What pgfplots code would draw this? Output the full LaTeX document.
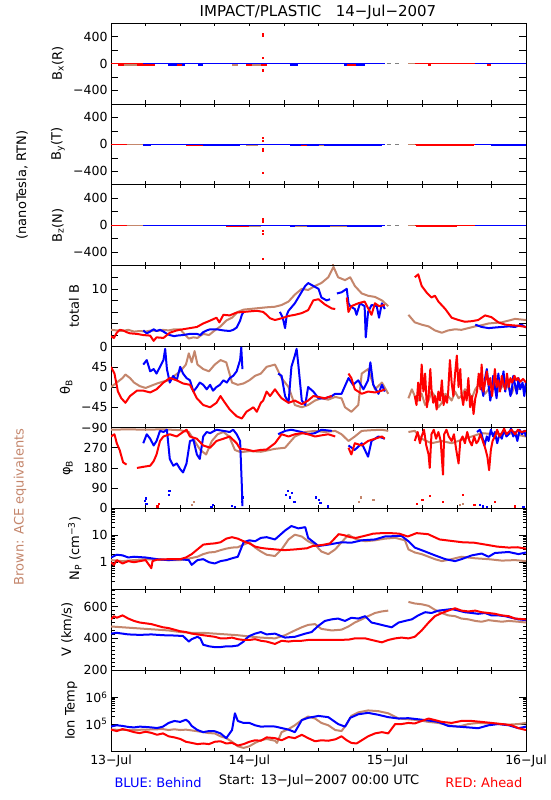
\documentclass[border=0pt]{standalone}
\usepackage{pgfplots}
\pgfplotsset{compat=1.18}
\usepackage{fontspec}
\setmainfont{DejaVu Sans}
\definecolor{stb}{RGB}{0,0,255}
\definecolor{sta}{RGB}{255,0,0}
\definecolor{ace}{RGB}{196,134,108}
\newcommand\ticksize{\fontsize{12.5}{13}\selectfont}
\newcommand\labsize{\fontsize{13}{14}\selectfont}
\pgfplotsset{
  panel/.style={
    scale only axis, width=415pt, height=80.9pt,
    xmin=0, xmax=72, anchor=north west,
    xtick={0,24,48,72}, minor xtick={6,12,18,30,36,42,54,60,66},
    xticklabels={},
    tick align=inside,
    major tick length=7pt, minor tick length=3.5pt,
    major x tick style={/pgfplots/major tick length=3.5pt},
    axis line style={line width=0.8pt},
    every tick/.style={black, line width=0.6pt},
    tick label style={font=\ticksize},
    ylabel style={font=\labsize, anchor=center},
    unbounded coords=jump,
  },
  sb/.style={color=stb, line width=2pt, no markers, line join=round},
  sa/.style={color=sta, line width=2pt, no markers, line join=round},
  ac/.style={color=ace, line width=2pt, no markers, line join=round},
  zb/.style={color=stb, line width=1.2pt, no markers},
  za/.style={color=sta, line width=1.2pt, no markers},
  zc/.style={color=ace, line width=1.2pt, no markers},
  zg/.style={color=gray, line width=1.2pt, no markers},
  ob/.style={color=stb, line width=2pt, no markers},
  oa/.style={color=sta, line width=2pt, no markers},
  oc/.style={color=ace, line width=2pt, no markers},
  bpanel/.style={panel, ymin=-600, ymax=600, ytick={-400,-200,0,200,400},
    yticklabels={−400,,0,,400}},
  dots/.style={only marks, mark=square*, mark size=0.6pt, color=#1},
}
\begin{document}
\begin{tikzpicture}
\useasboundingbox (0,0) rectangle (550pt,-800pt);

% ---------- Bx ----------
\begin{axis}[bpanel, at={(111pt,-23pt)}, ylabel={B\textsubscript{x}(R)},
  ylabel style={at={(axis description cs:-0.128,0.5)}}]
\addplot[oa] coordinates {(1.3,-16)(2.7,-16)};
\addplot[oc] coordinates {(2.2,-16)(5,-16)};
\addplot[oa] coordinates {(4.5,-16)(7.6,-16)};
\addplot[ob] coordinates {(9.9,-16)(12.8,-16)};
\addplot[oa] coordinates {(11.5,-16)(12.3,-16)};
\addplot[ob] coordinates {(15.1,-16)(16,-16)};
\addplot[oc] coordinates {(21,-16)(22,-16)};
\addplot[oa] coordinates {(23.5,-16)(27,-16)};
\addplot[oc] coordinates {(24.5,-16)(26,-16)};
\addplot[ob] coordinates {(31,-16)(32.5,-16)};
\addplot[ob] coordinates {(40.5,-16)(44,-16)};
\addplot[oa] coordinates {(41,-16)(42.5,-16)};
\addplot[oa] coordinates {(55,-16)(55.5,-16)};
\addplot[oa] coordinates {(65.2,-16)(66,-16)};
\addplot[za] coordinates {(0,0)(5.6,0)};
\addplot[zb] coordinates {(5.6,0)(47.6,0)};
\addplot[zg] coordinates {(47.8,0)(48.6,0)};
\addplot[zg] coordinates {(49.3,0)(50,0)};
\addplot[zc] coordinates {(51.6,0)(52.7,0)};
\addplot[za] coordinates {(52.7,0)(63.2,0)};
\addplot[zb] coordinates {(63.2,0)(72,0)};
\addplot[dots=sta] coordinates {(26.3,440)(26.3,410)(26.3,90)(26.3,-90)(26.3,-110)};
\end{axis}

% ---------- By ----------
\begin{axis}[bpanel, at={(111pt,-103.9pt)}, ylabel={B\textsubscript{y}(T)},
  ylabel style={at={(axis description cs:-0.128,0.5)}}]
\addplot[ob] coordinates {(5.6,-16)(7,-16)};
\addplot[oa] coordinates {(13,-16)(16,-16)};
\addplot[ob] coordinates {(16,-16)(22.4,-16)};
\addplot[oc] coordinates {(23.5,-16)(25.5,-16)};
\addplot[ob] coordinates {(31,-16)(47,-16)};
\addplot[oa] coordinates {(33,-16)(34,-16)};
\addplot[oc] coordinates {(36,-16)(37,-16)};
\addplot[oa] coordinates {(53,-16)(63,-16)};
\addplot[ob] coordinates {(66,-16)(72,-16)};
\addplot[za] coordinates {(0,0)(5.6,0)};
\addplot[zc] coordinates {(2.7,0)(5.6,0)};
\addplot[zb] coordinates {(5.6,0)(47.6,0)};
\addplot[zg] coordinates {(47.8,0)(48.6,0)};
\addplot[zg] coordinates {(49.3,0)(50,0)};
\addplot[zc] coordinates {(51.6,0)(52.7,0)};
\addplot[za] coordinates {(52.7,0)(63.2,0)};
\addplot[zb] coordinates {(63.2,0)(72,0)};
\addplot[dots=sta] coordinates {(26.3,100)(26.3,60)(26.3,-60)(26.3,-100)(26.3,-420)};
\end{axis}

% ---------- Bz ----------
\begin{axis}[bpanel, at={(111pt,-184.8pt)}, ylabel={B\textsubscript{z}(N)},
  ylabel style={at={(axis description cs:-0.128,0.5)}}]
\addplot[oa] coordinates {(20,-16)(24,-16)};
\addplot[oc] coordinates {(24,-16)(26,-16)};
\addplot[ob] coordinates {(31,-16)(47,-16)};
\addplot[oc] coordinates {(32,-16)(34,-16)};
\addplot[oc] coordinates {(38,-16)(41,-16)};
\addplot[oa] coordinates {(53,-16)(60,-16)};
\addplot[za] coordinates {(0,0)(2.7,0)};
\addplot[zc] coordinates {(2.7,0)(5.6,0)};
\addplot[zb] coordinates {(5.6,0)(47.6,0)};
\addplot[zg] coordinates {(47.8,0)(48.6,0)};
\addplot[zg] coordinates {(49.3,0)(50,0)};
\addplot[zc] coordinates {(51.6,0)(52.7,0)};
\addplot[za] coordinates {(52.7,0)(63.2,0)};
\addplot[zb] coordinates {(63.2,0)(72,0)};
\addplot[dots=sta] coordinates {(26.3,100)(26.3,60)(26.3,-80)(26.3,-130)(26.3,-500)};
\addplot[dots=ace] coordinates {(38.5,-590)};
\end{axis}

% ---------- total B ----------
\begin{axis}[panel, at={(111pt,-265.7pt)}, ymin=0, ymax=14,
  ytick={0,2,4,6,8,10,12,14}, yticklabels={0,,,,,10,,},
  ylabel={total B}, ylabel style={at={(axis description cs:-0.089,0.5)}}]
\addplot[ac] coordinates {(0,2.9)(1,2.8)(2,2.7)(3,2.9)(4,2.6)(5,2.7)(6,2.6)(7,2.8)(8,2.7)(9,2.9)(10,2.8)(11,3.0)(12,3.0)(12.7,2.2)(13.5,1.4)(14.3,1.6)(15,1.5)(16,2.2)(17,2.0)(18,2.8)(19,3.5)(20,4.5)(21,5.0)(22,6.0)(23,6.4)(24,6.5)(25,6.6)(26,6.7)(27,6.8)(28.45,6.9)(29.6,7.2)(30.8,7.8)(31.9,9.0)(33.1,10.0)(34.2,9.8)(35.4,10.5)(36.5,11.0)(37.7,12.0)(38.6,13.8)(39.4,12.0)(40.6,11.5)(41.5,12.0)(42.3,10.5)(43.5,9.2)(44.6,8.8)(45.8,8.6)(47,8.0)(48.1,7.0)(48.2,nan)(51.6,5.5)(52.7,4.2)(53.9,3.8)(55.1,3.5)(56.2,2.8)(57.4,2.4)(58.5,2.8)(59.7,3.0)(60.8,2.9)(62,3.2)(63.2,3.5)(64.3,3.7)(65.5,4.0)(66.6,4.1)(67.8,4.2)(69,4.5)(70.1,4.8)(72,4.6)};
\addplot[sb] coordinates {(5.6,2.8)(6.2,2.3)(6.8,2.6)(7.4,3.0)(7.9,2.7)(8.5,2.9)(9.1,2.6)(9.7,2.2)(10.2,2.0)(11,1.8)(11.4,1.9)(12.5,2.0)(13.7,2.2)(14.9,2.2)(15.5,2.0)(16,2.5)(16.6,2.8)(17.2,3.0)(18.3,3.0)(19.5,2.8)(20.6,2.7)(21.2,2.9)(21.8,3.3)(22.4,4.5)(22.7,5.5)(23,6.0)(23.1,nan)(29.3,6.0)(29.8,5.0)(30.2,3.2)(30.5,5.5)(30.8,6.2)(31.9,7.5)(32.5,8.5)(33.1,9.5)(33.7,10.5)(34.2,11.0)(35.1,10.5)(36,10.0)(36.5,8.5)(37.4,8.0)(38,8.2)(38.1,nan)(39.2,9.2)(40,9.4)(40.9,10.0)(41.2,7.5)(41.5,7.0)(42.3,6.5)(42.6,5.5)(43.2,7.5)(44,7.0)(44.2,1.6)(44.6,6.0)(45.2,7.2)(46.1,7.0)(46.5,5.0)(47,7.5)(47.5,6.5)(47.6,nan)(63.2,3.8)(64.3,3.4)(65.5,3.2)(66.6,3.3)(67.8,3.4)(69,3.5)(70.1,3.4)(71.2,3.8)(72,3.3)};
\addplot[sa] coordinates {(0,1.8)(0.5,1.5)(1,2.4)(1.5,2.9)(2.1,2.8)(2.7,2.5)(3.3,2.3)(4.5,2.2)(5.6,2.0)(6.8,1.9)(7.4,1.0)(7.9,1.6)(9.1,1.5)(10.2,2.4)(11.4,2.8)(12.5,3.0)(13.7,3.2)(14.9,3.4)(16,4.0)(17.2,4.5)(18.3,5.0)(18.8,4.2)(19.5,5.5)(20.6,5.4)(21.8,5.9)(23,6.0)(24.1,6.1)(25.3,6.2)(26.4,6.0)(27,5.5)(27.6,4.9)(28.45,4.6)(29.6,4.9)(30.8,5.3)(31.9,5.5)(33.1,5.8)(34.2,6.3)(35.1,8.0)(36,8.2)(37.1,7.3)(38.3,6.6)(38.9,6.5)(39,nan)(40.9,8.5)(41.2,6.0)(41.7,7.0)(42.9,7.5)(44,7.8)(45.2,5.5)(45.8,7.5)(46.5,7.0)(47.5,7.2)(47.6,nan)(52.7,12.0)(53.3,12.5)(53.9,10.5)(54.8,9.3)(55.6,8.5)(56.2,8.8)(56.8,7.8)(58,6.5)(59.1,5.0)(60.3,4.6)(61.4,4.3)(62.6,4.4)(63.7,4.6)(64.9,5.4)(66,5.1)(67.2,4.2)(68.4,3.8)(69.5,3.7)(70.7,3.6)(72,3.4)};
\end{axis}

% ---------- theta ----------
\begin{axis}[panel, at={(111pt,-346.6pt)}, ymin=-90, ymax=90,
  ytick={-90,-45,0,45,90}, yticklabels={−90,−45,0,45,},
  ylabel={θ\textsubscript{B}}, ylabel style={at={(axis description cs:-0.108,0.5)}}]
\addplot[ac] coordinates {(0,0)(1,10)(2,20)(2.5,28)(3.3,20)(4,10)(5,2)(6,-2)(7,3)(8,8)(9,12)(10,15)(11,25)(12,35)(13,50)(13.5,75)(14,55)(14.5,80)(15,50)(16,40)(17,35)(18,50)(19,60)(20,55)(21,10)(22,5)(23,8)(24,15)(25,25)(26,30)(27,45)(28.45,50)(29.6,20)(30.8,0)(31.9,-40)(33.1,-45)(34.2,-40)(35.4,-30)(36.5,-25)(37.7,-28)(38.9,-22)(40,-25)(40.6,-45)(41.7,-55)(42.9,-40)(43.5,30)(44.6,40)(45.8,-5)(47,10)(48.1,-15)(48.2,nan)(51.6,-25)(52.2,-5)(52.7,-20)(53.3,-30)(53.9,-15)(54.5,-40)(55.1,-30)(55.6,-10)(56.2,-20)(56.8,-45)(57.4,-35)(58,-15)(58.5,-20)(59.1,-30)(59.7,-10)(60.3,-25)(60.8,-20)(61.4,-5)(62,-10)(62.6,-25)(63.2,-5)(63.8,5)(64.3,0)(64.9,-15)(65.5,-5)(66.1,10)(66.6,5)(67.2,-10)(67.8,0)(68.4,10)(69,-3)(69.5,-15)(70.1,5)(70.7,-5)(71.3,5)(72,0)};
\addplot[sb] coordinates {(5.6,50)(6.2,60)(6.8,35)(7.4,40)(7.9,30)(8.5,45)(9.1,60)(9.4,85)(9.7,40)(10.2,10)(10.8,25)(11.4,15)(12,45)(12.5,30)(13.1,20)(13.7,15)(14.3,-10)(14.9,0)(15.4,10)(16,5)(16.6,-5)(17.2,5)(17.7,-8)(18.3,0)(18.9,5)(19.5,15)(20.1,10)(20.6,20)(21.2,25)(21.8,35)(22.4,60)(22.6,88)(22.8,40)(22.9,nan)(29,30)(29.6,25)(30.2,-20)(30.8,-35)(31.3,45)(31.9,70)(32.2,85)(32.5,50)(33.1,-30)(33.7,-40)(34.2,0)(35.1,-10)(36,-25)(37.1,-25)(38.3,-20)(38.9,-15)(40,-15)(41.2,20)(42,5)(42.9,15)(43.8,-5)(44.6,15)(45,55)(45.5,5)(46.4,-15)(47,5)(47.5,-10)(47.6,nan)(64.3,0)(64.6,-20)(64.9,20)(65.2,40)(65.5,5)(65.8,-30)(66,-15)(66.3,25)(66.6,0)(66.9,-25)(67.2,30)(67.5,-5)(67.8,10)(68.1,35)(68.4,-10)(68.7,20)(69,5)(69.3,-20)(69.5,-10)(69.8,25)(70.1,5)(70.4,-15)(70.7,20)(71,-5)(71.4,10)(71.7,-20)(72,10)};
\addplot[sa] coordinates {(0,45)(0.6,30)(1.2,-10)(1.8,-25)(2.5,-35)(3.3,-20)(4.5,-8)(5.6,-8)(6.8,-12)(7.9,-5)(9.1,10)(10.2,20)(11.4,15)(12.5,8)(13.7,5)(14.3,-10)(14.9,-25)(16,-40)(17.2,-45)(18.3,-35)(19,-20)(19.5,-30)(20.6,-50)(21.8,-65)(22.7,-70)(23.5,-55)(24.1,-50)(24.7,-45)(25.3,-55)(26,-35)(26.4,-30)(27,-10)(27.6,-20)(28.45,-5)(29,-15)(29.6,-25)(30.8,-35)(31.9,-30)(33.1,-38)(34.2,-30)(35.1,-20)(36,-22)(37.1,-25)(38.3,-20)(38.4,nan)(41.2,30)(41.7,20)(42.3,-5)(43.5,-15)(44.6,-10)(45.8,-12)(47,-8)(47.5,-5)(47.6,nan)(52.7,-20)(53,-40)(53.3,10)(53.6,-30)(53.9,50)(54.2,-10)(54.5,30)(54.8,-45)(55.1,-20)(55.4,40)(55.6,-5)(55.9,-35)(56.2,-20)(56.5,-50)(56.8,-10)(57.1,-30)(57.4,15)(57.7,-40)(58,-20)(58.3,-35)(58.5,-10)(58.8,60)(59.1,10)(59.4,-20)(59.7,30)(60,70)(60.3,0)(60.6,40)(60.8,-15)(61.1,-40)(61.4,-10)(61.7,-30)(62,20)(62.3,-45)(62.6,-20)(62.9,-60)(63.2,-25)(63.5,-10)(63.8,30)(64.1,-5)(64.3,50)(64.6,-10)(64.9,10)(65.2,35)(65.5,5)(65.8,20)(66.1,-20)(66.4,10)(66.6,40)(66.9,0)(67.2,15)(67.5,-10)(67.8,25)(68.1,5)(68.4,-5)(68.7,30)(69,0)(69.3,20)(69.6,10)(70,25)(70.3,15)(70.6,20)(71,12)(71.5,18)(72,10)};
\end{axis}

% ---------- phi ----------
\begin{axis}[panel, at={(111pt,-427.5pt)}, ymin=0, ymax=360,
  ytick={0,90,180,270,360}, yticklabels={0,90,180,270,},
  ylabel={φ\textsubscript{B}}, ylabel style={at={(axis description cs:-0.104,0.5)}}]
\addplot[ac] coordinates {(0,350)(3,352)(6,350)(9,352)(12,348)(13.5,340)(14.5,300)(15.5,260)(16.5,240)(17.5,300)(18.5,330)(19.5,340)(20.5,320)(21.5,260)(22.5,250)(24,255)(26,252)(28.45,265)(30.2,270)(31.9,320)(33.7,340)(35.4,345)(37.1,340)(38.9,345)(40,330)(41.2,300)(42.3,320)(43.5,345)(45.2,348)(47,350)(48.1,345)(48.2,nan)(51.6,340)(52.7,345)(53.9,310)(55.6,290)(57.4,300)(59.1,290)(60.8,305)(62.6,320)(64.3,335)(66.6,330)(69,335)(72,320)};
\addplot[dots=ace] coordinates {(14,15)(14.3,30)(43,30)(43.3,50)(45.5,40)(60.5,15)(61,20)};
\addplot[sb] coordinates {(5.6,290)(6.2,330)(6.8,310)(7.4,280)(7.9,300)(8.5,345)(9.1,340)(9.7,350)(10.2,220)(10.8,190)(11.4,200)(12,175)(12.5,160)(13.1,200)(13.7,300)(14.3,305)(14.9,240)(15.4,220)(16,320)(16.6,340)(17.2,335)(18.3,350)(19.5,345)(20.6,340)(21.2,350)(21.8,330)(22.4,300)(22.7,100)(22.8,10)(22.9,nan)(29,330)(30.2,345)(31.3,350)(33.1,340)(34.2,330)(35.4,335)(36.5,350)(38.3,345)(38.4,nan)(41.2,280)(42.3,260)(43.5,290)(44.6,230)(45.2,300)(46.4,320)(47.5,310)(47.6,nan)(63.5,340)(64,350)(64.3,330)(64.8,280)(65.2,320)(65.5,300)(65.9,350)(66.3,320)(66.6,340)(67,290)(67.4,330)(67.8,310)(68.2,350)(68.6,320)(69,330)(69.4,355)(69.8,320)(70.1,340)(70.5,300)(70.9,350)(71.3,330)(71.7,345)(72,320)};
\addplot[dots=stb] coordinates {(5.8,35)(6,45)(6.1,20)(10,60)(10.1,80)(17.4,8)(17.6,15)(21,12)(21.5,5)(22.7,30)(22.8,50)(30.3,60)(30.6,80)(31,50)(31.4,70)(31.8,30)(35.5,50)(36,40)(36.3,25)(37.6,10)(64,15)(64.5,10)(65.2,5)(70,10)(71.5,5)};
\addplot[sa] coordinates {(0,320)(0.6,330)(1,290)(1.5,260)(2.1,205)(2.7,195)(2.8,nan)(4.5,180)(5.6,185)(6.8,190)(7.4,210)(7.9,240)(8.5,300)(9.1,320)(10.2,330)(11.4,320)(12.5,340)(13.1,350)(13.7,320)(14.9,310)(16,280)(17.2,270)(18.3,300)(19.5,310)(20.6,320)(21.8,290)(22.4,265)(23.5,262)(24.7,255)(25.9,260)(27,262)(28.45,290)(29.6,330)(30.8,320)(31.9,330)(33.1,335)(34.2,330)(35.4,320)(36.5,325)(37.7,330)(38.9,320)(39,nan)(41.2,270)(41.7,240)(42.3,290)(43.5,280)(44.6,300)(45.8,310)(47,320)(47.5,310)(47.6,nan)(52.7,300)(53.2,340)(53.6,290)(53.9,320)(54.3,350)(54.7,280)(55.1,240)(55.3,180)(55.6,330)(56,350)(56.4,310)(56.8,340)(57.2,300)(57.6,150)(57.8,330)(58.2,350)(58.6,320)(59.1,300)(59.5,330)(59.9,260)(60.3,200)(60.6,300)(61,320)(61.4,290)(61.8,340)(62.2,300)(62.6,280)(63,320)(63.4,290)(63.7,300)(64.1,330)(64.5,300)(64.9,270)(65.3,230)(65.6,170)(65.9,260)(66.2,300)(66.6,320)(67,350)(67.4,320)(67.8,335)(68.2,355)(68.6,330)(69,340)(69.5,350)(70.1,330)(70.6,350)(71.2,340)(72,345)};
\addplot[dots=sta] coordinates {(8,10)(8.3,20)(53,20)(54,40)(55.3,55)(57.6,30)(61,60)(63,15)(66.5,30)(70,10)};
\end{axis}

% ---------- Np ----------
\begin{axis}[panel, at={(111pt,-508.3pt)}, ymode=log, ymin=0.1, ymax=100,
  ytick={0.1,1,10,100}, yticklabels={,1,10,},
  minor ytick={0.2,0.3,0.4,0.5,0.6,0.7,0.8,0.9,2,3,4,5,6,7,8,9,20,30,40,50,60,70,80,90},
  ylabel={N\textsubscript{P} (cm\textsuperscript{−3})}, ylabel style={at={(axis description cs:-0.087,0.5)}}]
\addplot[ac] coordinates {(0,1.2)(2,1.1)(4,1.2)(6,1.3)(8,1.25)(10,1.2)(12,1.2)(13,1.3)(15,1.6)(16,2.0)(17,2.3)(18,2.4)(19,2.8)(20,3.2)(21,3.5)(22,3.6)(23,4.5)(24,5.5)(25,3.5)(26,2.5)(27,1.9)(28.45,1.7)(29.6,3.0)(30.8,7.0)(31.9,10.5)(33.1,9.0)(34.2,6.0)(35.4,4.5)(36.5,2.5)(37.7,2.0)(38.9,3.0)(40,5.5)(41.2,10.5)(42.3,7.5)(44.1,6.0)(45.8,6.5)(47.5,7.5)(49.3,8.0)(51,6.5)(51.6,3.0)(52.7,2.3)(53.9,2.0)(55.1,1.6)(56.2,1.3)(57.4,1.1)(59.1,1.3)(60.8,1.6)(63.2,1.4)(65.5,1.3)(67.8,1.15)(70.1,1.2)(72,1.1)};
\addplot[sb] coordinates {(0,1.5)(1,1.9)(2,1.8)(3,1.5)(4,1.6)(6,1.5)(8,1.3)(10,1.2)(12,1.3)(13.5,1.2)(14,0.8)(15,1.2)(16,1.3)(17,1.0)(18,0.9)(19,1.1)(20,1.2)(21,1.4)(22,1.6)(23,5.5)(24,6.5)(25,6.0)(26,8.0)(27,8.5)(28.45,7.0)(30.2,15)(31.3,22)(32.5,18)(33.7,20)(34.2,8.0)(36,4.0)(37.7,4.5)(40,5.5)(41.7,5.3)(43.5,6.5)(45.8,7.0)(47.5,9.0)(50.4,9.5)(51.6,6.0)(52.7,3.5)(54.5,2.5)(56.2,1.8)(58,1.3)(59.7,1.1)(60.8,1.3)(62.6,1.8)(64.3,2.1)(65.5,1.6)(66.6,2.2)(69,2.4)(70.7,2.0)(72,2.3)};
\addplot[sa] coordinates {(0,1.0)(0.5,0.8)(1,1.2)(2,0.9)(3,1.1)(4,1.0)(5,1.1)(6,1.2)(7,0.6)(7.2,1.1)(8,1.25)(10,1.3)(12,1.3)(13,1.5)(14,2.0)(15,3.0)(16,4.5)(17,4.8)(18,5.0)(19,5.5)(20,7.5)(21,8.5)(22,7.5)(23,6.0)(24,5.0)(25,3.8)(26,3.4)(27,3.2)(28.45,3.0)(30,2.8)(32,3.0)(34,3.3)(35,4.0)(36,4.2)(37,4.5)(38,5.0)(39.5,11.0)(40.5,10.0)(41.5,8.5)(42.5,8.0)(44,9.5)(45.5,11.5)(47,12.0)(48.5,12.0)(50,11.5)(51.5,9.0)(53,12.0)(55,11.0)(57,7.0)(59,6.2)(61,5.5)(63,5.3)(65,4.5)(67,3.8)(69,3.5)(70.5,3.6)(72,3.2)};
\end{axis}

% ---------- V ----------
\begin{axis}[panel, at={(111pt,-589.2pt)}, ymin=200, ymax=710,
  ytick={200,400,600}, yticklabels={200,400,600},
  minor ytick={225,250,...,700},
  ylabel={V (km/s)}, ylabel style={at={(axis description cs:-0.106,0.5)}}]
\addplot[ac] coordinates {(0,475)(2,470)(4,465)(6,460)(8,455)(10,450)(12,440)(14,435)(16,435)(18,430)(20,425)(22,420)(24,412)(26,405)(28.45,400)(30.2,420)(31.3,440)(33.1,470)(34.2,485)(35.4,490)(36.5,460)(38.3,450)(40,455)(41.2,475)(42.3,500)(43.5,520)(44.6,540)(45.8,560)(47,570)(48.1,575)(48.2,nan)(51.6,630)(52.7,620)(53.9,615)(55.1,605)(56.2,580)(57.4,560)(58.5,545)(59.7,540)(60.8,525)(62,520)(63.2,510)(64.3,505)(65.5,515)(66.6,510)(67.8,505)(69,510)(70.7,505)(72,500)};
\addplot[sb] coordinates {(0,430)(1,435)(2,430)(3,425)(5,422)(7,425)(9,420)(11,418)(12.5,415)(13.5,380)(14,395)(15,410)(15.5,400)(16,360)(17,350)(18,345)(19,345)(20,350)(21,350)(22,355)(23,380)(23.5,400)(24,415)(25,430)(26,440)(27,425)(28.45,430)(30.2,405)(31.9,410)(33.7,430)(34.8,440)(36,480)(37.1,510)(38.3,520)(39.4,525)(40.6,510)(41.7,530)(42.9,525)(44.1,540)(45.2,500)(46.4,490)(47.5,480)(48.7,470)(49.9,500)(51,510)(52.2,520)(53.3,545)(54.5,565)(55.6,560)(56.8,575)(58,580)(59.1,585)(60.3,575)(61.4,565)(62.6,560)(63.7,555)(64.9,560)(66,545)(67.2,545)(68.4,540)(69.5,530)(70.7,520)(72,515)};
\addplot[sa] coordinates {(0,520)(0.5,540)(1,530)(2,545)(3,525)(4,510)(5,500)(6,495)(7,490)(8,480)(9,470)(10,465)(11,455)(12,445)(13,440)(14,430)(15,425)(16,420)(17,415)(18,410)(19,400)(20,400)(21,405)(22,395)(23,390)(24,390)(25,395)(26,385)(27,380)(28.45,365)(29.6,385)(30.8,380)(31.9,385)(33.1,385)(34.2,390)(36.5,390)(38.9,390)(41.2,392)(42.3,400)(44.1,400)(45.8,385)(47,375)(48.1,390)(49.3,400)(50.4,405)(51.6,400)(52.7,410)(53.9,450)(55.1,500)(56.2,540)(57.4,560)(58.5,575)(59.7,590)(60.8,575)(62,570)(63.2,575)(64.3,565)(65.5,560)(66.6,555)(67.8,545)(69,540)(70.1,525)(72,520)};
\end{axis}

% ---------- Ion Temp ----------
\begin{axis}[panel, at={(111pt,-670.1pt)}, ymode=log, ymin=1e4, ymax=1e7,
  ytick={1e5,1e6}, yticklabels={10\textsuperscript{5},10\textsuperscript{6}},
  xticklabels={13−Jul,14−Jul,15−Jul,16−Jul},
  ylabel={Ion Temp}, ylabel style={at={(axis description cs:-0.096,0.5)}}]
\addplot[ac] coordinates {(0,6.2e4)(3,6e4)(6,6.2e4)(9,6.5e4)(10,6e4)(11,6.4e4)(12,6e4)(13,6.2e4)(14,5.8e4)(15,5.4e4)(16,5e4)(17,4.6e4)(18,4.5e4)(19,3.5e4)(20,3e4)(21,2.2e4)(22,1.5e4)(23,1.3e4)(24,1.5e4)(25,2.0e4)(26,2.5e4)(27,2.8e4)(28.45,2.4e4)(28.8,2.0e4)(29.6,5e4)(30.8,6.5e4)(31.9,9e4)(33.1,1.4e5)(34.2,1.9e5)(35.4,1.6e5)(36.5,1.1e5)(37.7,9e4)(38.9,6e4)(40,5.5e4)(40.9,1.0e5)(41.7,2.0e5)(42.9,2.7e5)(44.6,3.2e5)(46.4,3.0e5)(48.1,2.5e5)(49.9,1.6e5)(51.6,1.5e5)(53.3,1.4e5)(55.1,1.2e5)(56.8,1.1e5)(58.5,9e4)(60.3,8e4)(62,1.0e5)(63.7,1.1e5)(65.5,1.05e5)(67.2,1.0e5)(69,9.5e4)(70.7,1.0e5)(72,1.1e5)};
\addplot[sb] coordinates {(0,8.1e4)(1,9e4)(2,8.5e4)(3,7.8e4)(4,7.5e4)(5,8e4)(6,7.8e4)(7,7.5e4)(8,7.1e4)(9,8e4)(10,1.1e5)(11,1.3e5)(12,1.2e5)(13,1.45e5)(13.5,1.2e5)(14,8.5e4)(15,6e4)(16,5e4)(17,5.5e4)(18,5.4e4)(19,4.5e4)(20,3e4)(21,6e4)(21.5,2.5e5)(22,1.3e5)(23,1.1e5)(24,1.1e5)(25,9e4)(26,8e4)(27,8.2e4)(28.45,8.1e4)(30.8,6.2e4)(31.9,5e4)(33.1,1.4e5)(34.2,1.7e5)(36,2.0e5)(37.7,1.8e5)(39.4,1.0e5)(40.6,8e4)(41.5,1.7e5)(42.9,2.3e5)(44.6,2.6e5)(46.4,2.2e5)(48.1,1.8e5)(49.9,1.6e5)(51.6,1.65e5)(53.3,1.5e5)(55.1,1.35e5)(56.8,1.2e5)(58.5,8.5e4)(60.3,8e4)(62,7.5e4)(63.7,7e4)(65.5,9e4)(67.2,1.0e5)(69,9e4)(70.7,7e4)(72,8e4)};
\addplot[sa] coordinates {(0,6.2e4)(1,5.5e4)(2,6.5e4)(3,5.8e4)(4,5.0e4)(5,4.6e4)(6,5.2e4)(7,4.7e4)(8,4.0e4)(9,4.5e4)(10,3.5e4)(11,3.2e4)(12,2.8e4)(13,2.2e4)(14,2.0e4)(15,1.8e4)(16,1.9e4)(17,1.8e4)(18,2.2e4)(19,2.3e4)(20,1.9e4)(21,2.0e4)(22,1.6e4)(23,1.8e4)(24,2.2e4)(25,2.5e4)(26,2.4e4)(27,3.2e4)(28.45,3.0e4)(29.6,2.5e4)(30.8,3.3e4)(31.9,3.0e4)(33.1,4.0e4)(34.2,3.0e4)(35.4,2.3e4)(36.5,2.5e4)(37.7,2.4e4)(38.9,2.7e4)(40,3.5e4)(40.9,2.5e4)(41.7,2.0e4)(42.6,1.9e4)(43.5,2.5e4)(44.6,3.5e4)(45.8,4.5e4)(47,5.0e4)(48.1,4.5e4)(49.3,1.0e5)(50.4,1.0e5)(51.6,1.1e5)(52.7,1.05e5)(53.9,1.3e5)(55.1,1.6e5)(56.2,1.4e5)(57.4,1.2e5)(59.1,1.1e5)(60.8,1.3e5)(62.6,1.3e5)(64.3,1.2e5)(66,1.1e5)(67.8,1.0e5)(69.5,9e4)(70.7,7e4)(72,6e4)};
\end{axis}

% ---------- free text ----------
\node[font=\fontsize{15}{16}\selectfont] at (318pt,-12pt) {IMPACT/PLASTIC\ \ \ 14−Jul−2007};
\node[font=\labsize, rotate=90] at (22pt,-185pt) {(nanoTesla,\ RTN)};
\node[font=\labsize, rotate=90, text=ace] at (20pt,-507pt) {Brown: ACE equivalents};
\node[font=\labsize, anchor=west, text=stb] at (111pt,-783pt) {BLUE: Behind};
\node[font=\labsize] at (319pt,-781pt) {Start: 13−Jul−2007 00:00 UTC};
\node[font=\labsize, anchor=east, text=sta] at (526pt,-783pt) {RED: Ahead};
\end{tikzpicture}
\end{document}
